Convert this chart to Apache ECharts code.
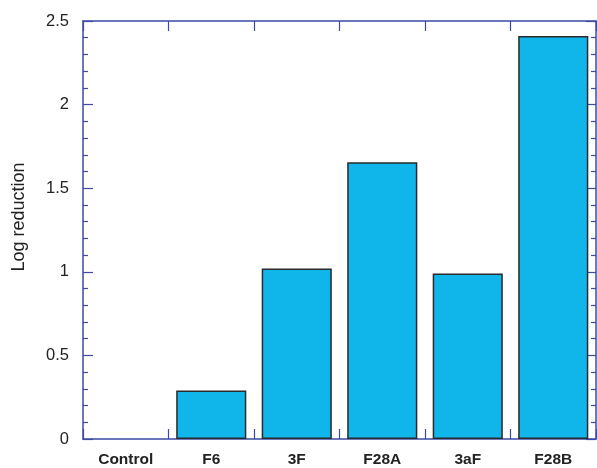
<!DOCTYPE html>
<html>
<head>
<meta charset="utf-8">
<script src="https://cdn.jsdelivr.net/npm/echarts@6/dist/echarts.min.js"></script>
<style>
  html, body { margin: 0; padding: 0; background: #fff; }
  #chart { width: 597px; height: 468px; }
</style>
</head>
<body>
<div id="chart"></div>
<script>
// Treatments and their log reduction values
const categories = ['Control', 'F6', '3F', 'F28A', '3aF', 'F28B'];
const logReduction = [0, 0.29, 1.02, 1.655, 0.99, 2.41];
const yTicks = [0, 0.5, 1, 1.5, 2, 2.5];

const axisBlue = '#3c4aa4';
const font = '"Liberation Sans", Arial, Helvetica, sans-serif';

const chart = echarts.init(document.getElementById('chart'), null, { renderer: 'canvas' });

const yLabelFmt = v => {
  const hit = yTicks.find(t => Math.abs(t - v) < 1e-9);
  return hit === undefined ? '' : String(hit);
};

const catAxis = (position, showLabels) => ({
  type: 'category',
  data: categories,
  position: position,
  axisLine: { show: true, onZero: false, lineStyle: { color: axisBlue, width: 1.5 } },
  axisTick: { show: true, inside: true, length: 10, alignWithLabel: false, lineStyle: { color: axisBlue, width: 1.2 } },
  axisLabel: showLabels
    ? { color: '#222', fontFamily: font, fontWeight: 'bold', fontSize: 15.5, margin: 13 }
    : { show: false },
  splitLine: { show: false }
});

const valAxis = (position, extra) => Object.assign({
  type: 'value',
  min: 0, max: 2.5, interval: 0.5,
  position: position,
  axisLine: { show: true, onZero: false, lineStyle: { color: axisBlue, width: 1.5 } },
  axisTick: { show: true, inside: true, length: 10, lineStyle: { color: axisBlue, width: 1.2 } },
  minorTick: { show: true, splitNumber: 5, length: 5, lineStyle: { color: axisBlue, width: 1.2 } },
  splitLine: { show: false },
  minorSplitLine: { show: false }
}, extra);

// zero-height bars get no outline
const barData = logReduction.map(v => (v === 0
  ? { value: v, itemStyle: { borderWidth: 0 } }
  : v));

chart.setOption({
  animation: false,
  grid: { left: 83, right: 1, top: 21, bottom: 27, containLabel: false },
  xAxis: [catAxis('bottom', true), catAxis('top', false)],
  yAxis: [
    valAxis('left', {
      name: 'Log reduction',
      nameLocation: 'middle',
      nameGap: 55,
      nameRotate: 90,
      nameTextStyle: { color: '#222', fontFamily: font, fontSize: 18, padding: [0, 0, 0, 26] },
      axisLabel: { color: '#222', fontFamily: font, fontSize: 16.5, margin: 14, formatter: yLabelFmt }
    }),
    valAxis('right', { axisLabel: { show: false } })
  ],
  series: [
    {
      type: 'bar',
      data: barData,
      xAxisIndex: 0,
      yAxisIndex: 0,
      barCategoryGap: '18%',
      itemStyle: { color: '#10b6e9', borderColor: '#2a2a2a', borderWidth: 1.5 },
      z: 1
    }
  ]
});
</script>
</body>
</html>
